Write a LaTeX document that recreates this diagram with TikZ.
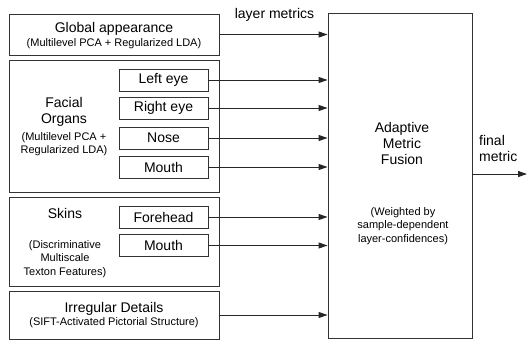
\documentclass[tikz,border=0pt]{standalone}
\usepackage{fontspec}
\setmainfont{Liberation Sans}
\usetikzlibrary{arrows.meta}
\usetikzlibrary{positioning}

\newcommand{\bigtxt}{\fontsize{14}{16}\selectfont}
\newcommand{\smalltxt}{\fontsize{11}{13.5}\selectfont}

\begin{document}
\begin{tikzpicture}[x=1pt,y=-1pt,
  box/.style={draw=black!80,line width=0.9pt,rectangle,inner sep=0pt},
  group/.style={box,minimum width=210pt},
  part/.style={box,minimum width=89pt,minimum height=22pt,font=\bigtxt},
  conn/.style={draw=black!85,line width=0.9pt,-{Triangle[length=9pt,width=6pt]}},
  title/.style={font=\bigtxt,align=center,inner sep=0pt},
  note/.style={font=\smalltxt,align=center,inner sep=0pt}]
\useasboundingbox (0,0) rectangle (527,341);

% left column: feature layers
\node[group,minimum height=41pt] (glob) at (114,34.5) {};
\node[title] at (114,29) {Global appearance};
\node[note] at (114,44) {(Multilevel PCA + Regularized LDA)};

\node[group,minimum height=132pt] (organs) at (114,126) {};
\node[title,text depth=0pt] at (64,110.5) {Facial\\Organs};
\node[note] at (64,144) {(Multilevel PCA +\\Regularized LDA)};
\node[part] (leye) at (163.5,80) {Left eye};
\node[part] (reye) at (163.5,108) {Right eye};
\node[part] (nose) at (163.5,138) {Nose};
\node[part] (mouth) at (163.5,167) {Mouth};

\node[group,minimum height=89pt] (skins) at (114,241.5) {};
\node[title] at (65,213) {Skins};
\node[note,text depth=0pt] at (65,258) {(Discriminative\\Multiscale\\Texton Features)};
\node[part] (fhead) at (163.5,217) {Forehead};
\node[part] (smouth) at (163.5,245.5) {Mouth};

\node[group,minimum height=48pt] (irreg) at (114,315) {};
\node[title] at (114,309) {Irregular Details};
\node[note] at (114,323) {(SIFT-Activated Pictorial Structure)};

% fusion block
\node[box,minimum width=144pt,minimum height=325pt] (fusion) at (400,175.5) {};
\node[title] at (402,143) {Adaptive\\Metric\\Fusion};
\node[note] at (403,226) {(Weighted by\\sample-dependent\\layer-confidences)};

\node[title] at (274.5,15) {layer metrics};
\node[title,align=left,anchor=west] at (479,148.5) {final\\metric};

% connectors
\foreach \src in {glob,leye,reye,nose,mouth,fhead,smouth,irreg}
  \draw[conn] (\src.east) -- (\src.east -| fusion.west);
\coordinate (out) at (527,174);
\draw[conn] (fusion.east |- out) -- (out);

\end{tikzpicture}
\end{document}
